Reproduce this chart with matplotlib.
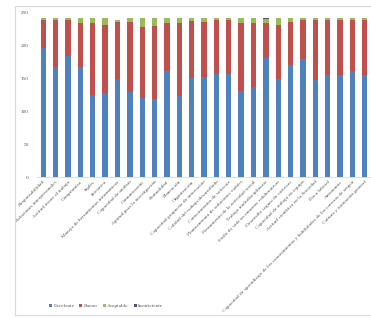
import matplotlib.pyplot as plt
from matplotlib.patches import Rectangle
import numpy as np

plt.rcParams["font.family"] = ["Liberation Serif", "DejaVu Serif"]

competencias = [
    "Responsabilidad",
    "Relaciones interpersonales",
    "Actitud frente al trabajo",
    "Compromiso",
    "Inglés",
    "Iniciativa",
    "Manejo de herramientas informáticas",
    "Capacidad de análisis",
    "Comunicación",
    "Aptitud para la investigación",
    "Puntualidad",
    "Planeación",
    "Organización",
    "Capacidad propuesta de innovación",
    "Calidad del trabajo desarrollado",
    "Conocimientos de software",
    "Planteamiento de soluciones viables",
    "Pensamiento de la actividad social",
    "Trabajo multidisciplinario",
    "Estilo de vida en entornos colaborativos",
    "Desarrollo seguro de software",
    "Capacidad de trabajo en equipo",
    "Actitud científica en la Sociedad",
    "Ética laboral",
    "Autonomía",
    "Capacidad de aprendizaje de los conocimientos y habilidades de las carreras de origen",
    "Cultura y formación general",
]

excelente = [196, 167, 184, 167, 125, 128, 148, 129, 119, 118, 160, 123, 150, 151,
             156, 156, 131, 137, 180, 148, 169, 179, 147, 155, 155, 160, 155]
bueno = [42, 71, 54, 66, 108, 103, 87, 106, 109, 111, 73, 110, 86, 84,
         82, 82, 102, 96, 54, 83, 66, 59, 91, 83, 83, 78, 83]
aceptable = [3, 3, 3, 8, 8, 10, 3, 6, 13, 12, 8, 8, 5, 6,
             3, 3, 8, 8, 5, 10, 6, 3, 3, 3, 3, 3, 3]
insuficiente = [0, 0, 0, 0, 0, 0, 0, 0, 0, 0, 0, 0, 0, 0,
                0, 0, 0, 0, 2, 0, 0, 0, 0, 0, 0, 0, 0]

series = [
    ("Excelente", excelente, "#4F81BD"),
    ("Bueno", bueno, "#C0504D"),
    ("Aceptable", aceptable, "#9BBB59"),
    ("Insuficiente", insuficiente, "#5B4A7A"),
]

fig = plt.figure(figsize=(3.71, 3.17), dpi=100)
fig.patches.append(Rectangle((15 / 371, 2 / 317), 1.0, 309 / 317,
                             transform=fig.transFigure, fill=False,
                             edgecolor="#d9d9d9", linewidth=0.8))
ax = fig.add_axes([0.10, 0.4416, 0.90, 0.5204])

x = np.arange(len(competencias))
bottom = np.zeros(len(competencias))
for nombre, valores, color in series:
    ax.bar(x, valores, 0.43, bottom=bottom, color=color, label=nombre)
    bottom += np.array(valores)

ax.set_xlim(-0.5, len(competencias) - 0.5)
ax.set_ylim(0, 250)
ax.set_yticks(range(0, 251, 50))
ax.set_xticks(x)
ax.set_xticklabels(competencias, rotation=45, ha="right", rotation_mode="anchor",
                   fontsize=3.8, color="#595959")
ax.tick_params(axis="y", labelsize=3.8, colors="#595959", length=0, pad=6)
ax.tick_params(axis="x", length=0, pad=2)
for lado in ["top", "right", "left"]:
    ax.spines[lado].set_visible(False)
ax.spines["bottom"].set_color("#d9d9d9")
ax.spines["bottom"].set_linewidth(0.6)

handles, labels = ax.get_legend_handles_labels()
fig.legend(handles, labels, loc="center left", bbox_to_anchor=(44 / 371, 1 - 306 / 317),
           ncol=4, frameon=False, fontsize=3.8, handlelength=0.6, handleheight=0.6,
           handletextpad=0.3, columnspacing=0.9, labelcolor="#595959")

fig.savefig("out.png", dpi=100)
